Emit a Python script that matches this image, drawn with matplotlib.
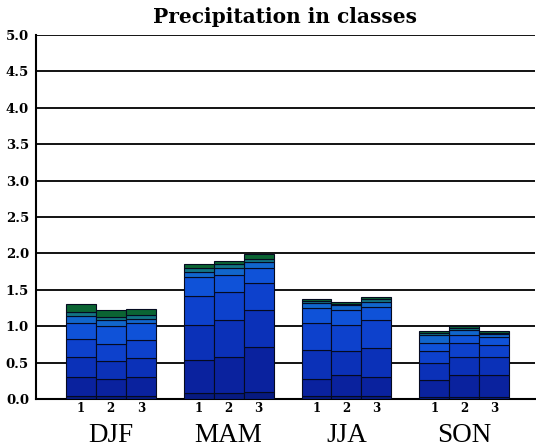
import numpy as np
import matplotlib.pyplot as plt

seasons = ['DJF', 'MAM', 'JJA', 'SON']
members = ['1', '2', '3']

# precipitation per class, one value per bar (DJF1..DJF3, MAM1..3, JJA1..3, SON1..3)
class0 = [0.04, 0.04, 0.04, 0.08, 0.08, 0.10, 0.04, 0.04, 0.04, 0.03, 0.03, 0.03]
class1 = [0.26, 0.24, 0.26, 0.46, 0.50, 0.62, 0.24, 0.29, 0.27, 0.23, 0.30, 0.30]
class2 = [0.28, 0.24, 0.26, 0.48, 0.51, 0.50, 0.39, 0.33, 0.39, 0.23, 0.25, 0.25]
class3 = [0.24, 0.24, 0.25, 0.39, 0.38, 0.37, 0.37, 0.36, 0.39, 0.17, 0.19, 0.16]
class4 = [0.22, 0.24, 0.23, 0.27, 0.23, 0.21, 0.21, 0.20, 0.18, 0.11, 0.11, 0.12]
class5 = [0.10, 0.08, 0.06, 0.07, 0.10, 0.08, 0.07, 0.07, 0.07, 0.11, 0.07, 0.03]
class6 = [0.06, 0.05, 0.05, 0.05, 0.05, 0.05, 0.03, 0.02, 0.03, 0.03, 0.03, 0.02]
class7 = [0.10, 0.09, 0.09, 0.05, 0.05, 0.06, 0.03, 0.03, 0.03, 0.02, 0.02, 0.02]

classes = [class0, class1, class2, class3, class4, class5, class6, class7]
colors = ['#071a80', '#0a229e', '#0b31b8', '#0d41cc', '#0f52d8',
          '#1166cc', '#127484', '#0b6433']

plt.rcParams['font.family'] = ['Liberation Serif', 'DejaVu Serif']

fig = plt.figure(figsize=(5.36, 4.48), dpi=100)
ax = fig.add_axes([0.067, 0.109, 0.931, 0.813])

width = 0.254
x = np.array([g + (m - 1) * width for g in range(len(seasons)) for m in range(3)])

bottom = np.zeros(len(x))
for vals, col in zip(classes, colors):
    ax.bar(x, vals, width, bottom=bottom, color=col, edgecolor='#050a20',
           linewidth=0.8, zorder=3)
    bottom += np.array(vals)

ax.set_xlim(-0.636, 3.60)
ax.set_ylim(0, 5.0)
yt = np.arange(0, 5.01, 0.5)
ax.set_yticks(yt)
ax.set_yticklabels([f'{v:.1f}' for v in yt], fontsize=9.5, fontweight='bold',
                   family='DejaVu Serif')
ax.tick_params(axis='y', length=0, pad=5)
for v in yt[1:]:
    ax.axhline(v, color='black', linewidth=1.3, zorder=1)

ax.set_xticks(x)
ax.set_xticklabels(members * len(seasons), fontsize=8.5, fontweight='bold',
                   family='DejaVu Serif')
ax.tick_params(axis='x', length=0, pad=2)

for g, s in enumerate(seasons):
    ax.text(g, -0.33, s, ha='center', va='top', fontsize=19.5,
            transform=ax.transData, clip_on=False)

for side in ['top', 'right']:
    ax.spines[side].set_visible(False)
ax.spines['left'].set_linewidth(1.5)
ax.spines['bottom'].set_linewidth(1.5)

fig.text(0.532, 0.962, 'Precipitation in classes', ha='center', va='center',
         fontsize=14.5, fontweight='bold', family='DejaVu Serif')

fig.savefig('out.png', dpi=100)
